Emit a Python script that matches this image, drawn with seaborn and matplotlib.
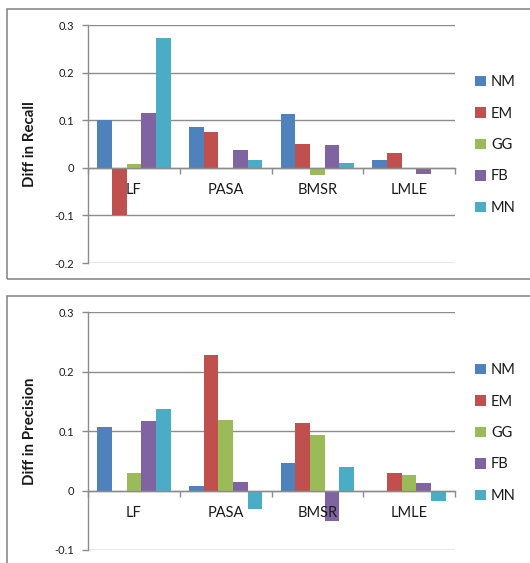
import matplotlib
matplotlib.use("Agg")
import matplotlib.pyplot as plt
import seaborn as sns
import pandas as pd
from matplotlib.patches import Patch, Rectangle

categories = ["LF", "PASA", "BMSR", "LMLE"]
series = ["NM", "EM", "GG", "FB", "MN"]
colors = ["#4F81BD", "#C0504D", "#9BBB59", "#8064A2", "#4BACC6"]

# Diff in Recall, per series across categories
recall_NM = [0.100, 0.086, 0.112, 0.017]
recall_EM = [-0.100, 0.075, 0.051, 0.031]
recall_GG = [0.008, -0.003, -0.015, 0.0]
recall_FB = [0.116, 0.037, 0.047, -0.013]
recall_MN = [0.273, 0.017, 0.010, 0.0]

# Diff in Precision
prec_NM = [0.107, 0.008, 0.047, -0.003]
prec_EM = [0.0, 0.227, 0.113, 0.030]
prec_GG = [0.030, 0.118, 0.093, 0.026]
prec_FB = [0.117, 0.015, -0.051, 0.013]
prec_MN = [0.137, -0.031, 0.039, -0.017]

yticks_top = [-0.2, -0.1, 0, 0.1, 0.2, 0.3]
yticks_bot = [-0.1, 0, 0.1, 0.2, 0.3]


def long_df(vals):
    rows = []
    for s, v in zip(series, vals):
        for c, x in zip(categories, v):
            rows.append({"cat": c, "series": s, "val": x})
    return pd.DataFrame(rows)


df_rec = long_df([recall_NM, recall_EM, recall_GG, recall_FB, recall_MN])
df_prec = long_df([prec_NM, prec_EM, prec_GG, prec_FB, prec_MN])

sns.set_style("white")
plt.rcParams["font.family"] = ["Lato", "DejaVu Sans"]

W, H = 530, 563
fig = plt.figure(figsize=(W / 100, H / 100), dpi=100)

GRID = "#8c8c8c"
TXT = "#1a1a1a"

# panel borders (pixel coords -> figure fraction)
def px_rect(x0, y0, x1, y1):
    return Rectangle((x0 / W, 1 - y1 / H), (x1 - x0) / W, (y1 - y0) / H,
                     transform=fig.transFigure, fill=False,
                     edgecolor="#8a8a8a", lw=1.2, zorder=0)

fig.patches.append(px_rect(7, 9, 540, 279))
fig.patches.append(px_rect(7, 296, 540, 580))


def panel(ax, df, ylim, yticks, ylabel, legend_top_px):
    sns.barplot(data=df, x="cat", y="val", hue="series", order=categories,
                hue_order=series, palette=colors, width=0.8, legend=False,
                ax=ax, saturation=1, linewidth=0, errorbar=None)
    ax.set_ylim(*ylim)
    ax.set_yticks(yticks)
    ax.set_yticklabels(["0" if t == 0 else f"{t:.1f}" for t in yticks],
                       fontsize=8, color=TXT)
    ax.set_xlim(-0.5, len(categories) - 0.5)
    ax.yaxis.grid(True, color=GRID, lw=1)
    ax.set_axisbelow(True)
    for s in ["top", "right"]:
        ax.spines[s].set_visible(False)
    ax.spines["left"].set_color(GRID)
    ax.spines["left"].set_linewidth(1)
    ax.spines["bottom"].set_position(("data", 0))
    ax.spines["bottom"].set_color(GRID)
    ax.spines["bottom"].set_linewidth(1)
    ax.tick_params(axis="y", length=4, width=1, color=GRID, pad=6, left=True)
    ax.tick_params(axis="x", which="major", length=0, pad=11, labelsize=10.5,
                   labelcolor=TXT)
    ax.set_xticks(range(len(categories)))
    ax.set_xticklabels(categories)
    ax.set_xticks([i + 0.5 for i in range(-1, len(categories))], minor=True)
    ax.tick_params(axis="x", which="minor", length=4, width=1, color=GRID,
                   bottom=True)
    ax.xaxis.set_zorder(5)
    ax.set_xlabel("")
    ax.set_ylabel(ylabel, fontsize=10.8, fontweight="bold", color=TXT)
    ax.yaxis.set_label_coords(-0.14, 0.5)
    handles = [Patch(facecolor=c, edgecolor="none") for c in colors]
    leg = fig.legend(handles, series, loc="upper left",
                     bbox_to_anchor=(475 / W, 1 - legend_top_px / H),
                     frameon=False, fontsize=10.5, handlelength=0.75,
                     handleheight=0.75, handletextpad=0.35, labelspacing=1.2,
                     borderpad=0, borderaxespad=0)
    for t in leg.get_texts():
        t.set_color(TXT)


ax1 = fig.add_axes([88 / W, 1 - 263 / H, 367 / W, 238 / H])
panel(ax1, df_rec, (-0.2, 0.3), yticks_top, "Diff in Recall", 75)

ax2 = fig.add_axes([88 / W, 1 - 550 / H, 367 / W, 238 / H])
panel(ax2, df_prec, (-0.1, 0.3), yticks_bot, "Diff in Precision", 363)

fig.savefig("out.png", dpi=100)
